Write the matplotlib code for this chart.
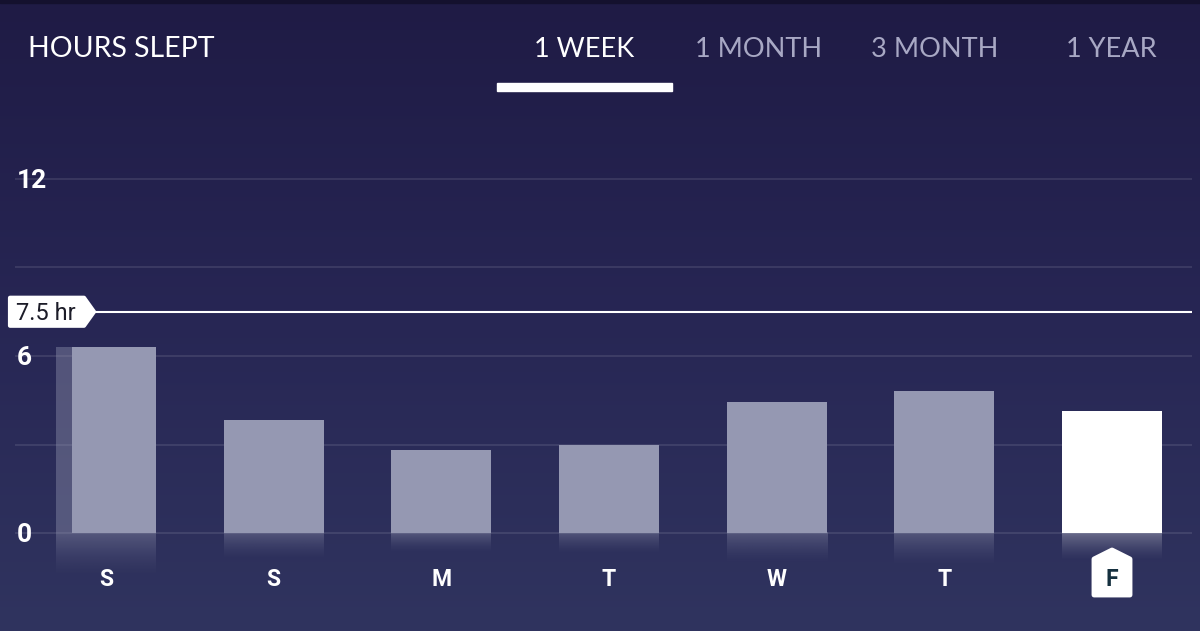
import numpy as np
import matplotlib
matplotlib.use("Agg")
import matplotlib.pyplot as plt
from matplotlib.colors import LinearSegmentedColormap, to_rgb
from matplotlib.patches import Polygon

days = ["S", "S", "M", "T", "W", "T", "F"]
hours = [6.31, 3.83, 2.81, 2.98, 4.44, 4.81, 4.14]
grid_levels = [0, 3, 6, 9, 12]
tick_labels = {0: "0", 6: "6", 12: "12"}
goal = 7.5
tabs = ["1 WEEK", "1 MONTH", "3 MONTH", "1 YEAR"]

W, H = 1200, 631
fig = plt.figure(figsize=(W / 100, H / 100), dpi=100)
ax = fig.add_axes([0, 0, 1, 1])
ax.axis("off")

# pixel layout -> data limits (bar centres 106..1112 px, 0 at row 533, 12 at row 179)
step = (1112 - 106) / 6
ppu = (533 - 179) / 12.0
x0, x1 = -106 / step, (W - 106) / step
y0, y1 = -(H - 533) / ppu, 12 + 179 / ppu


def px(x, y):
    return x / W, 1 - y / H


def dx(p):
    return (p - 106) / step


# background gradient (dark at top, lighter at bottom)
bg = LinearSegmentedColormap.from_list("bg", ["#1f1b45", "#272654", "#30345f"])
grad = np.linspace(0, 1, 256).reshape(-1, 1)
ax.imshow(grad, cmap=bg, extent=[x0, x1, y0, y1], aspect="auto", zorder=0)
fig.patches.append(plt.Rectangle((0, 1 - 3 / H), 1, 3 / H, transform=fig.transFigure,
                                 color="#14112e", zorder=1))

# grid lines
for g in grid_levels:
    ax.hlines(g, dx(15), dx(1192), color="white", alpha=0.13, lw=1.1, zorder=1)

bar_w = 100 / step
bar_col = "#9598b2"
xs = np.arange(len(days))
colors = [bar_col] * (len(days) - 1) + ["white"]

for i, (x, v, c) in enumerate(zip(xs, hours, colors)):
    left = x - bar_w / 2
    if i == 0:
        ax.bar(x, v, width=bar_w, color=bar_col, alpha=0.4, zorder=2, linewidth=0)
        ax.bar(left + 16 / step, v, width=bar_w - 16 / step, align="edge",
               color=c, zorder=3, linewidth=0)
    else:
        ax.bar(x, v, width=bar_w, color=c, zorder=3, linewidth=0)
    # reflection
    rgb = to_rgb(c)
    refl = np.zeros((64, 2, 4))
    refl[..., :3] = rgb
    fade = (1 - np.linspace(0, 1, 64)) ** 1.5
    refl[..., 3] = (0.38 if c != "white" else 0.30) * fade[:, None]
    ax.imshow(refl, extent=[left, left + bar_w, -0.24 * v, 0], aspect="auto",
              zorder=2, interpolation="bilinear")

# goal line with label flag
ax.hlines(goal, dx(94), dx(1192), color="white", lw=1.5, zorder=4)
flag = Polygon([(dx(10), goal + 14 / ppu), (dx(84), goal + 14 / ppu), (dx(94), goal),
                (dx(84), goal - 14 / ppu), (dx(10), goal - 14 / ppu)],
               closed=True, facecolor="white", edgecolor="white", lw=3,
               joinstyle="round", zorder=5)
ax.add_patch(flag)
ax.text(dx(16), goal - 8 / ppu, "7.5 hr", fontsize=17, family="Roboto", color="#1c1c28",
        va="baseline", ha="left", zorder=6)

# y labels
for g, lab in tick_labels.items():
    ax.text(dx(17), g - 9 / ppu, lab, fontsize=19, family="Roboto", fontweight="bold",
            color="white", va="baseline", ha="left", zorder=6)

# day labels
for x, d in zip(xs[:-1], days[:-1]):
    ax.text(x, -(586 - 533) / ppu, d, fontsize=16.5, family="Roboto", fontweight="bold",
            color="white", ha="center", va="baseline", zorder=6)

# highlighted day badge
xc = xs[-1]
badge = Polygon([(xc - 18 / step, -(595 - 533) / ppu), (xc + 18 / step, -(595 - 533) / ppu),
                 (xc + 18 / step, -(559 - 533) / ppu), (xc, -(550 - 533) / ppu),
                 (xc - 18 / step, -(559 - 533) / ppu)],
                closed=True, facecolor="white", edgecolor="white", lw=3.5,
                joinstyle="round", zorder=5)
ax.add_patch(badge)
ax.text(xc, -(586 - 533) / ppu, days[-1], fontsize=16.5, family="Roboto", fontweight="bold",
        color="#15303f", ha="center", va="baseline", zorder=6)

# header
fig.text(*px(28, 57), "HOURS SLEPT", fontsize=20.5, family="Lato", color="white",
         ha="left", va="baseline")
tab_x = [584, 759, 935, 1111]
for t, tx, col in zip(tabs, tab_x, ["white", "#a8a8c4", "#a8a8c4", "#a8a8c4"]):
    fig.text(*px(tx, 57), t, fontsize=19.5, family="Lato", color=col,
             ha="center", va="baseline")
fig.patches.append(plt.Rectangle(px(497, 91), 175 / W, 8 / H, transform=fig.transFigure,
                                 color="white", zorder=2))

ax.set_xlim(x0, x1)
ax.set_ylim(y0, y1)
fig.savefig("out.png", dpi=100)
